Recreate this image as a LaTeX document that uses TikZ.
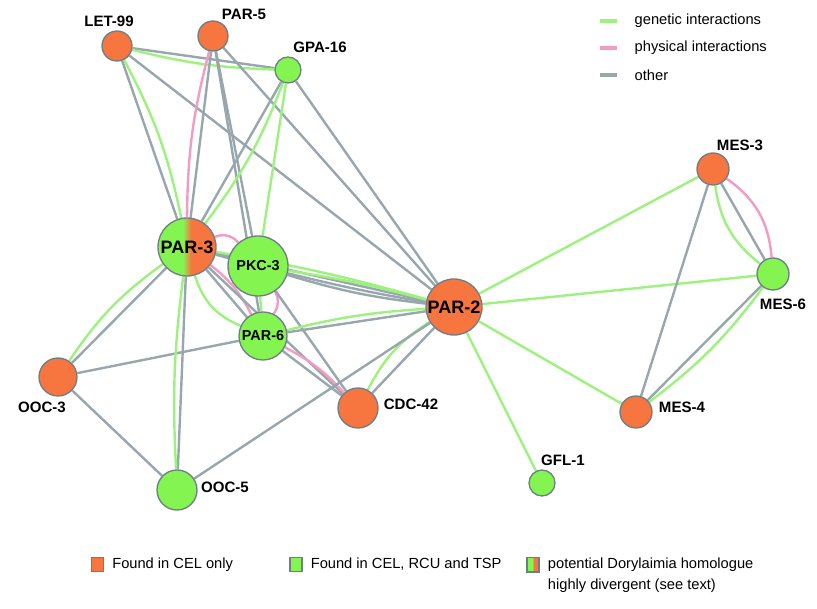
\documentclass[tikz,border=0pt]{standalone}
\usepackage{fontspec}
\setmainfont{Liberation Sans}
\usetikzlibrary{positioning}
\pgfdeclarelayer{edges}
\pgfsetlayers{edges,main}

\definecolor{corange}{HTML}{F7763F}
\definecolor{cgreen}{HTML}{84F550}
\definecolor{cborder}{HTML}{6F7E86}
\definecolor{egray}{HTML}{98A7AD}
\definecolor{egreen}{HTML}{9DF27E}
\definecolor{epink}{HTML}{F49BC4}

\tikzset{
	gene/.style={circle,draw=cborder,line width=1pt,inner sep=0pt,font=\bfseries\fontsize{10.8}{12}\selectfont},
	onlycel/.style={gene,fill=corange},
	allsp/.style={gene,fill=cgreen},
	divergent/.style={gene,path picture={
			\fill[cgreen] (path picture bounding box.south west) rectangle (path picture bounding box.north);
			\fill[corange] (path picture bounding box.south) rectangle (path picture bounding box.north east);
			\shade[left color=cgreen,right color=corange] ([xshift=-#1]path picture bounding box.south) rectangle ([xshift=#1]path picture bounding box.north);
	}},
	divergent/.default=3pt,
	big/.style={font=\bfseries\fontsize{13.5}{15}\selectfont},
	genetic/.style={egreen,line width=1.8pt},
	physical/.style={epink,line width=1.8pt},
	other/.style={egray,line width=1.8pt},
	lbl/.style={font=\bfseries\fontsize{11.3}{13}\selectfont,inner sep=0pt},
	legtext/.style={font=\fontsize{11}{13}\selectfont,anchor=west,inner sep=0pt},
	legbox/.style={draw=cborder,line width=0.8pt,minimum width=9pt,minimum height=11pt,inner sep=0pt},
}

\begin{document}
\begin{tikzpicture}[x=0.75pt,y=-0.75pt]
	\useasboundingbox (0,0) rectangle (817,609);
	% genes
	\node[onlycel,minimum size=22.5pt] (let99) at (117,46) {};
	\node[onlycel,minimum size=22.5pt] (par5) at (213,36) {};
	\node[allsp,minimum size=19.5pt] (gpa16) at (288,70) {};
	\node[divergent,big,minimum size=43.5pt] (par3) at (187,247) {PAR-3};
	\node[allsp,minimum size=45pt] (pkc3) at (258,266) {PKC-3};
	\node[allsp,minimum size=36pt] (par6) at (263,336) {PAR-6};
	\node[onlycel,big,minimum size=42pt] (par2) at (454,307) {PAR-2};
	\node[onlycel,minimum size=30pt] (cdc42) at (358,408) {};
	\node[onlycel,minimum size=28.5pt] (ooc3) at (58,377) {};
	\node[allsp,minimum size=30pt] (ooc5) at (177,490) {};
	\node[allsp,minimum size=19.5pt] (gfl1) at (542,483) {};
	\node[onlycel,minimum size=24pt] (mes3) at (713,169) {};
	\node[allsp,minimum size=24pt] (mes6) at (773,274) {};
	\node[onlycel,minimum size=24pt] (mes4) at (636,412) {};
	% labels
	\node[lbl] (let99-l) at (109,21) {LET-99};
	\node[lbl] (par5-l) at (244,14) {PAR-5};
	\node[lbl] (gpa16-l) at (320,47) {GPA-16};
	\node[lbl] (cdc42-l) at (411,404) {CDC-42};
	\node[lbl] (ooc3-l) at (42,407) {OOC-3};
	\node[lbl] (ooc5-l) at (225,487) {OOC-5};
	\node[lbl] (gfl1-l) at (563,460) {GFL-1};
	\node[lbl] (mes3-l) at (740,145) {MES-3};
	\node[lbl] (mes6-l) at (783,304) {MES-6};
	\node[lbl] (mes4-l) at (682,407) {MES-4};

	\begin{pgfonlayer}{edges}
		% LET-99, PAR-5, GPA-16
		\draw[other] (let99) -- (gpa16);
		\draw[genetic] (let99) to[bend right=6] (gpa16);
		\draw[other] (let99) -- (par3);
		\draw[genetic] (let99) to[bend left=8] (par3);
		\draw[other] (let99) -- (par2);
		\draw[other] (par5) -- (par3);
		\draw[physical] (par5) to[bend right=7] (par3);
		\draw[other] (par5) -- (pkc3);
		\draw[other] (par5) -- (par6);
		\draw[other] (par5) -- (par2);
		\draw[other] (gpa16) -- (par3);
		\draw[genetic] (gpa16) to[bend left=8] (par3);
		\draw[genetic] (gpa16) -- (pkc3);
		\draw[other] (gpa16) -- (par2);
		% PAR-3, PKC-3, PAR-6, CDC-42
		\draw[other] (par3) -- (pkc3);
		\draw[physical] (par3) to[bend left=35] (pkc3);
		\draw[other] (par3) -- (par6);
		\draw[physical] (par3) to[bend left=12] (par6);
		\draw[genetic] (par3) to[bend right=25] (par6);
		\draw[other] (par3) -- (cdc42);
		\draw[other] (par3) -- (par2);
		\draw[genetic] (par3) to[bend left=3] (par2);
		\draw[genetic] (pkc3) -- (par6);
		\draw[physical] (pkc3) to[bend left=30] (par6);
		\draw[other] (pkc3) -- (cdc42);
		\draw[other] (pkc3) to[bend right=2] (par2);
		\draw[other] (pkc3) to[bend right=5] (par2);
		\draw[genetic] (pkc3) to[bend left=3] (par2);
		\draw[other] (par6) -- (cdc42);
		\draw[physical] (par6) to[bend left=10] (cdc42);
		\draw[other] (par6) -- (par2);
		\draw[genetic] (par6) to[bend left=5] (par2);
		\draw[other] (cdc42) -- (par2);
		\draw[genetic] (cdc42) to[bend left=15] (par2);
		% OOC-3, OOC-5
		\draw[other] (ooc3) -- (par3);
		\draw[genetic] (ooc3) to[bend left=10] (par3);
		\draw[other] (ooc3) -- (par6);
		\draw[other] (ooc3) -- (ooc5);
		\draw[other] (ooc5) -- (par3);
		\draw[genetic] (ooc5) to[bend left=5] (par3);
		\draw[other] (ooc5) -- (par2);
		% PAR-2 and the MES genes
		\draw[genetic] (par2) -- (mes3);
		\draw[genetic] (par2) -- (mes6);
		\draw[genetic] (par2) -- (mes4);
		\draw[genetic] (par2) -- (gfl1);
		\draw[other] (mes3) -- (mes6);
		\draw[physical] (mes3) to[bend left=25] (mes6);
		\draw[genetic] (mes3) to[bend right=22] (mes6);
		\draw[other] (mes3) -- (mes4);
		\draw[other] (mes4) -- (mes6);
		\draw[genetic] (mes4) to[bend right=8] (mes6);
	\end{pgfonlayer}

	% legend, edges
	\coordinate (lg1) at (600,21);
	\coordinate (lg2) at (600,48);
	\coordinate (lg3) at (600,75);
	\draw[egreen,line width=2.6pt] (lg1) -- ++(17,0) node[legtext,black] (lg1-t) at ([xshift=24.75pt]lg1) {genetic interactions};
	\draw[epink,line width=2.6pt] (lg2) -- ++(17,0) node[legtext,black] (lg2-t) at ([xshift=24.75pt]lg2) {physical interactions};
	\draw[egray,line width=2.6pt] (lg3) -- ++(17,0) node[legtext,black] (lg3-t) at ([xshift=24.75pt]lg3) {other};
	% legend, genes
	\node[legbox,fill=corange] (key1) at (97.5,564.5) {};
	\node[legtext,right=6pt of key1] (key1-t) {Found in CEL only};
	\node[legbox,fill=cgreen] (key2) at (296,564.5) {};
	\node[legtext,right=6pt of key2] (key2-t) {Found in CEL, RCU and TSP};
	\node[legbox,divergent=0.6pt,circle=false,rectangle] (key3) at (533,564.5) {};
	\node[legtext,right=6pt of key3] (key3-t) {potential Dorylaimia homologue};
	\node[legtext,below=5pt of key3-t.south west,anchor=north west] (key3-u) {highly divergent (see text)};
\end{tikzpicture}
\end{document}
